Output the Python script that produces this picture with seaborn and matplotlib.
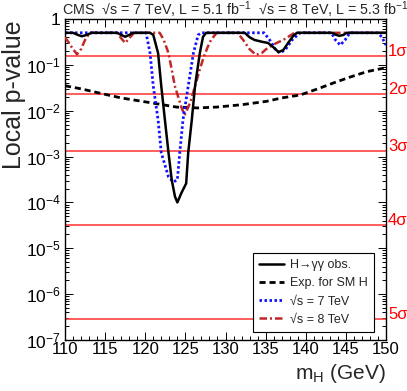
import numpy as np
import pandas as pd
import seaborn as sns
import matplotlib
matplotlib.use("agg")
import matplotlib.pyplot as plt
from matplotlib.ticker import LogLocator, FuncFormatter, MultipleLocator
from matplotlib.lines import Line2D
import matplotlib.transforms as mtransforms

# observed combined p-value
m_obs = [110, 111, 111.6, 112.1, 112.7, 113.3, 116.5, 117.0, 117.5, 118.0, 118.5,
         120.6, 121.0, 121.6, 122.0, 122.45, 122.9, 123.3, 123.7, 124.0, 124.5,
         125.1, 125.35, 125.8, 126.2, 126.8, 127.2, 127.6, 132.4, 133.0, 133.6,
         134.5, 135.3, 136.0, 136.6, 137.2, 137.8, 138.4, 138.9, 143.3, 143.8,
         144.2, 144.7, 145.1, 150]
p_obs = [0.5, 0.5, 0.45, 0.42, 0.45, 0.5, 0.5, 0.45, 0.41, 0.45, 0.5,
         0.5, 0.45, 0.18, 0.034, 6.3e-3, 1.2e-3, 3.1e-4, 1.35e-4, 1.0e-4, 1.6e-4,
         2.6e-4, 1.2e-3, 6.3e-3, 0.034, 0.18, 0.41, 0.5, 0.5, 0.4, 0.35,
         0.32, 0.3, 0.24, 0.19, 0.21, 0.3, 0.42, 0.5, 0.5, 0.45,
         0.43, 0.45, 0.5, 0.5]

# expected for SM Higgs
m_exp = [110, 112, 114.4, 117, 120.6, 123.9, 126.5, 128.9, 132, 135.1, 137,
         139.3, 141.5, 143.4, 145.5, 147.6, 150]
p_exp = [0.035, 0.03, 0.024, 0.019, 0.015, 0.012, 0.0115, 0.012, 0.0135, 0.016,
         0.019, 0.022, 0.03, 0.040, 0.054, 0.071, 0.087]

# 7 TeV only
m_7 = [110, 120.1, 120.6, 121.0, 121.6, 122.0, 122.9, 123.5, 124.0, 124.3, 124.7,
       125.35, 126.0, 126.6, 127.0, 134.8, 135.5, 136.2, 136.8, 137.5, 138.3,
       139.3, 143.2, 143.7, 144.3, 144.9, 145.5, 149.0, 149.5, 150]
p_7 = [0.5, 0.5, 0.18, 0.034, 6.3e-3, 1.2e-3, 3.6e-4, 2.8e-4, 3.1e-4, 1.2e-3, 6.3e-3,
       0.034, 0.18, 0.45, 0.5, 0.5, 0.35, 0.22, 0.18, 0.22, 0.35,
       0.5, 0.5, 0.35, 0.27, 0.35, 0.5, 0.5, 0.4, 0.27]

# 8 TeV only
m_8 = [110, 110.5, 111.0, 111.5, 112.0, 112.5, 113.1, 116.5, 117.0, 117.5, 118.0,
       118.6, 121.8, 122.3, 122.9, 123.7, 124.5, 124.9, 125.6, 126.2, 126.8,
       127.3, 127.8, 128.2, 128.9, 131.5, 132.2, 133.0, 133.8, 134.5, 135.2,
       136.2, 137.2, 138.6, 150]
p_8 = [0.4, 0.3, 0.22, 0.17, 0.22, 0.35, 0.5, 0.5, 0.38, 0.3, 0.38,
       0.5, 0.5, 0.35, 0.18, 0.034, 0.012, 8e-3, 0.015, 0.034, 0.08,
       0.15, 0.25, 0.35, 0.5, 0.5, 0.35, 0.22, 0.165, 0.18, 0.23,
       0.29, 0.35, 0.5, 0.5]

sigma_labels = ["1σ", "2σ", "3σ", "4σ", "5σ"]
sigma_p = [0.1587, 0.02275, 1.35e-3, 3.17e-5, 2.87e-7]

legend_labels = ["H→γγ obs.", "Exp. for SM H", "√s = 7 TeV", "√s = 8 TeV"]

sns.set_style("ticks")
plt.rcParams["font.family"] = ["Liberation Sans", "DejaVu Sans"]
plt.rcParams["mathtext.fontset"] = "custom"
plt.rcParams["mathtext.rm"] = "Liberation Sans"
plt.rcParams["mathtext.it"] = "Liberation Sans"
plt.rcParams["mathtext.default"] = "regular"

fig = plt.figure(figsize=(4.07, 3.91), dpi=100)
ax = fig.add_axes([65 / 407, 1 - 340 / 391, 321 / 407, 321 / 391])
ax.set_yscale("log")

red_sig = "#ff3030"
for p in sigma_p:
    ax.axhline(p, color=red_sig, lw=1.1, zorder=1)

c_obs, c_exp, c_7, c_8 = "black", "black", "#1010ff", "#c0282a"
sns.lineplot(x=m_exp, y=p_exp, ax=ax, color=c_exp, lw=2.0,
             linestyle=(0, (2.2, 1.4)), zorder=3)
sns.lineplot(x=m_8, y=p_8, ax=ax, color=c_8, lw=1.8,
             linestyle=(0, (3.0, 1.2, 0.8, 1.2)), zorder=4)
sns.lineplot(x=m_7, y=p_7, ax=ax, color=c_7, lw=2.0,
             linestyle=(0, (0.9, 0.9)), zorder=5)
sns.lineplot(x=m_obs, y=p_obs, ax=ax, color=c_obs, lw=1.8, zorder=6)

ax.set_xlim(110, 150)
ax.set_ylim(1e-7, 1)

ax.xaxis.set_major_locator(MultipleLocator(5))
ax.xaxis.set_minor_locator(MultipleLocator(1))
ax.yaxis.set_major_locator(LogLocator(base=10, numticks=20))
ax.yaxis.set_minor_locator(LogLocator(base=10, subs=np.arange(2, 10), numticks=20))


def yfmt(v, pos):
    e = int(round(np.log10(v)))
    if e == 0:
        return "1"
    return "$10^{%d}$" % e


ax.yaxis.set_major_formatter(FuncFormatter(yfmt))
ax.tick_params(which="both", direction="in", top=True, right=True, width=0.7,
               colors="black")
ax.tick_params(axis="x", labelsize=12, pad=1.5)
ax.tick_params(axis="y", labelsize=12.5, pad=3)
ax.tick_params(which="major", length=6)
ax.tick_params(which="minor", length=3)
for s in ax.spines.values():
    s.set_linewidth(1.0)
    s.set_color("black")

# sigma labels on the right
trans = mtransforms.blended_transform_factory(ax.transAxes, ax.transData)
for lab, p in zip(sigma_labels, sigma_p):
    ax.text(1.006, p, lab, transform=trans, color="red", fontsize=12,
            ha="left", va="baseline")

# axis titles
ax.text(1.0, -0.1215, "m$_{\\mathrm{H}}$ (GeV)", transform=ax.transAxes,
        ha="right", va="baseline", fontsize=15)
ax.text(-0.137, 0.997, "Local p-value", transform=ax.transAxes, rotation=90,
        rotation_mode="anchor", ha="right", va="baseline", fontsize=18)

fig.text(62 / 407, 1 - 15 / 391,
         "CMS  √s = 7 TeV, L = 5.1 fb$^{-1}$  √s = 8 TeV, L = 5.3 fb$^{-1}$",
         fontsize=10.3, ha="left", va="baseline")

handles = [
    Line2D([], [], color=c_obs, lw=1.8),
    Line2D([], [], color=c_exp, lw=2.0, linestyle=(0, (2.2, 1.4))),
    Line2D([], [], color=c_7, lw=2.0, linestyle=(0, (0.9, 0.9))),
    Line2D([], [], color=c_8, lw=1.8, linestyle=(0, (3.0, 1.2, 0.8, 1.2))),
]
leg = ax.legend(handles, legend_labels, loc="lower right",
                bbox_to_anchor=(0.963, 0.025), fontsize=9, frameon=True,
                fancybox=False, edgecolor="black", framealpha=1,
                handlelength=2.0, handletextpad=0.5, labelspacing=0.5,
                borderpad=0.5, borderaxespad=0)
leg.get_frame().set_linewidth(0.8)

fig.savefig("out.png", dpi=100)
